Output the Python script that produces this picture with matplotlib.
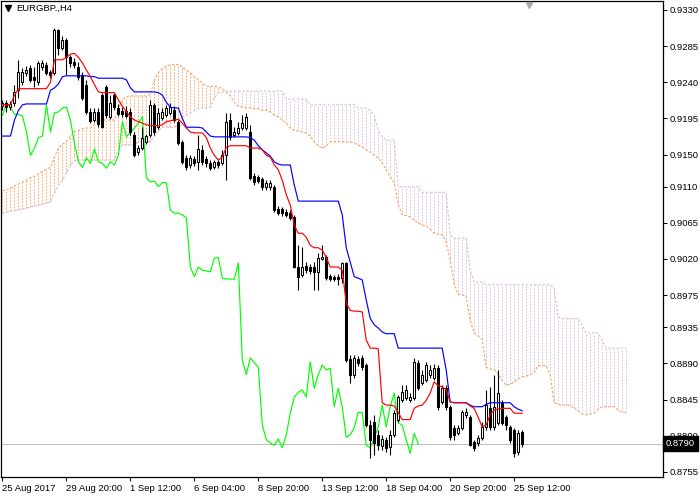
import numpy as np
import matplotlib
matplotlib.use("Agg")
import matplotlib.pyplot as plt
from matplotlib.lines import Line2D
from matplotlib.transforms import blended_transform_factory

symbol = "EURGBP.,H4"

open_ = [0.9210, 0.9214, 0.9209, 0.9214, 0.9230, 0.9240, 0.9252, 0.9258, 0.9247, 0.9240,
         0.9259, 0.9262, 0.9253, 0.9252, 0.9305, 0.9283, 0.9293, 0.9271, 0.9265, 0.9259,
         0.9249, 0.9237, 0.9203, 0.9193, 0.9203, 0.9224, 0.9234, 0.9197, 0.9224, 0.9208,
         0.9204, 0.9204, 0.9203, 0.9174, 0.9153, 0.9158, 0.9166, 0.9174, 0.9212, 0.9184,
         0.9195, 0.9199, 0.9202, 0.9205, 0.9191, 0.9166, 0.9146, 0.9137, 0.9144, 0.9141,
         0.9156, 0.9144, 0.9139, 0.9134, 0.9141, 0.9139, 0.9149, 0.9193, 0.9174, 0.9177,
         0.9183, 0.9183, 0.9178, 0.9123, 0.9122, 0.9120, 0.9110, 0.9110, 0.9110, 0.9082,
         0.9082, 0.9078, 0.9077, 0.9072, 0.9010, 0.9000, 0.9011, 0.9010, 0.9010, 0.9004,
         0.9020, 0.9022, 0.8999, 0.8998, 0.8998, 0.8996, 0.9015, 0.8895, 0.8876, 0.8895,
         0.8897, 0.8888, 0.8813, 0.8817, 0.8801, 0.8787, 0.8795, 0.8786, 0.8801, 0.8820,
         0.8844, 0.8847, 0.8844, 0.8847, 0.8891, 0.8866, 0.8869, 0.8876, 0.8872, 0.8884,
         0.8842, 0.8859, 0.8836, 0.8810, 0.8803, 0.8810, 0.8826, 0.8823, 0.8792, 0.8791,
         0.8797, 0.8811, 0.8834, 0.8811, 0.8816, 0.8841, 0.8823, 0.8811, 0.8807, 0.8780,
         0.8805]

high = [0.9218, 0.9218, 0.9217, 0.9237, 0.9268, 0.9258, 0.9260, 0.9262, 0.9259, 0.9267,
        0.9268, 0.9265, 0.9255, 0.9307, 0.9306, 0.9298, 0.9295, 0.9274, 0.9270, 0.9265,
        0.9253, 0.9243, 0.9208, 0.9208, 0.9208, 0.9227, 0.9237, 0.9224, 0.9227, 0.9213,
        0.9209, 0.9210, 0.9208, 0.9178, 0.9162, 0.9184, 0.9176, 0.9218, 0.9214, 0.9208,
        0.9208, 0.9212, 0.9214, 0.9210, 0.9193, 0.9168, 0.9149, 0.9149, 0.9148, 0.9174,
        0.9162, 0.9148, 0.9143, 0.9143, 0.9143, 0.9156, 0.9202, 0.9202, 0.9184, 0.9191,
        0.9199, 0.9202, 0.9187, 0.9127, 0.9125, 0.9122, 0.9118, 0.9118, 0.9112, 0.9086,
        0.9085, 0.9082, 0.9081, 0.9075, 0.9037, 0.9035, 0.9016, 0.9014, 0.9016, 0.9027,
        0.9037, 0.9025, 0.9001, 0.9000, 0.9001, 0.9016, 0.9016, 0.8900, 0.8900, 0.8899,
        0.8900, 0.8891, 0.8820, 0.8826, 0.8807, 0.8801, 0.8798, 0.8807, 0.8832, 0.8851,
        0.8863, 0.8863, 0.8853, 0.8897, 0.8894, 0.8882, 0.8892, 0.8888, 0.8889, 0.8888,
        0.8863, 0.8863, 0.8838, 0.8813, 0.8813, 0.8832, 0.8834, 0.8826, 0.8795, 0.8801,
        0.8817, 0.8857, 0.8861, 0.8876, 0.8882, 0.8844, 0.8826, 0.8813, 0.8810, 0.8807,
        0.8807]

low = [0.9205, 0.9203, 0.9205, 0.9210, 0.9220, 0.9237, 0.9248, 0.9240, 0.9234, 0.9237,
       0.9255, 0.9249, 0.9245, 0.9249, 0.9274, 0.9280, 0.9249, 0.9259, 0.9258, 0.9243,
       0.9218, 0.9200, 0.9189, 0.9191, 0.9184, 0.9183, 0.9195, 0.9194, 0.9205, 0.9198,
       0.9197, 0.9195, 0.9174, 0.9147, 0.9149, 0.9156, 0.9163, 0.9172, 0.9174, 0.9182,
       0.9193, 0.9197, 0.9199, 0.9191, 0.9162, 0.9138, 0.9131, 0.9133, 0.9136, 0.9131,
       0.9137, 0.9134, 0.9131, 0.9132, 0.9133, 0.9137, 0.9118, 0.9168, 0.9172, 0.9174,
       0.9181, 0.9181, 0.9118, 0.9112, 0.9115, 0.9106, 0.9106, 0.9106, 0.9078, 0.9075,
       0.9073, 0.9072, 0.9068, 0.9009, 0.8981, 0.8998, 0.9002, 0.9001, 0.8981, 0.8981,
       0.9019, 0.8994, 0.8993, 0.8993, 0.8988, 0.8990, 0.8892, 0.8866, 0.8872, 0.8887,
       0.8882, 0.8811, 0.8772, 0.8776, 0.8782, 0.8782, 0.8780, 0.8776, 0.8798, 0.8817,
       0.8842, 0.8844, 0.8842, 0.8844, 0.8857, 0.8863, 0.8867, 0.8872, 0.8869, 0.8832,
       0.8839, 0.8832, 0.8795, 0.8795, 0.8801, 0.8807, 0.8822, 0.8787, 0.8781, 0.8787,
       0.8795, 0.8807, 0.8807, 0.8807, 0.8813, 0.8813, 0.8807, 0.8791, 0.8773, 0.8776,
       0.8786]

close = [0.9214, 0.9209, 0.9213, 0.9228, 0.9253, 0.9253, 0.9255, 0.9243, 0.9243, 0.9264,
         0.9264, 0.9252, 0.9249, 0.9305, 0.9283, 0.9293, 0.9271, 0.9264, 0.9262, 0.9247,
         0.9220, 0.9203, 0.9192, 0.9203, 0.9188, 0.9184, 0.9199, 0.9214, 0.9209, 0.9200,
         0.9200, 0.9198, 0.9178, 0.9149, 0.9158, 0.9171, 0.9173, 0.9212, 0.9178, 0.9202,
         0.9203, 0.9208, 0.9209, 0.9193, 0.9164, 0.9141, 0.9134, 0.9146, 0.9139, 0.9157,
         0.9141, 0.9139, 0.9133, 0.9141, 0.9137, 0.9149, 0.9191, 0.9172, 0.9178, 0.9183,
         0.9189, 0.9197, 0.9121, 0.9116, 0.9117, 0.9110, 0.9115, 0.9115, 0.9081, 0.9077,
         0.9077, 0.9075, 0.9071, 0.9010, 0.8998, 0.9010, 0.9006, 0.9005, 0.9004, 0.9021,
         0.9022, 0.8996, 0.8995, 0.8995, 0.8995, 0.9015, 0.8894, 0.8876, 0.8897, 0.8891,
         0.8885, 0.8813, 0.8795, 0.8791, 0.8788, 0.8796, 0.8785, 0.8801, 0.8828, 0.8848,
         0.8854, 0.8857, 0.8848, 0.8892, 0.8859, 0.8876, 0.8888, 0.8882, 0.8884, 0.8836,
         0.8859, 0.8836, 0.8798, 0.8801, 0.8810, 0.8829, 0.8829, 0.8788, 0.8785, 0.8797,
         0.8811, 0.8838, 0.8811, 0.8836, 0.8853, 0.8816, 0.8813, 0.8795, 0.8778, 0.8803,
         0.8790]

tenkan = [0.9212, 0.9212, 0.9212, 0.9224, 0.9232, 0.9232, 0.9232, 0.9232, 0.9232, 0.9232,
          0.9232, 0.9232, 0.9240, 0.9268, 0.9268, 0.9268, 0.9271, 0.9275, 0.9276, 0.9271,
          0.9264, 0.9255, 0.9247, 0.9237, 0.9228, 0.9227, 0.9227, 0.9227, 0.9227, 0.9218,
          0.9210, 0.9203, 0.9197, 0.9193, 0.9191, 0.9189, 0.9187, 0.9186, 0.9186, 0.9186,
          0.9187, 0.9191, 0.9192, 0.9193, 0.9194, 0.9189, 0.9183, 0.9178, 0.9177, 0.9177,
          0.9177, 0.9171, 0.9158, 0.9149, 0.9143, 0.9147, 0.9159, 0.9161, 0.9161, 0.9161,
          0.9161, 0.9161, 0.9158, 0.9158, 0.9158, 0.9156, 0.9149, 0.9147, 0.9137, 0.9131,
          0.9118, 0.9100, 0.9087, 0.9062, 0.9052, 0.9052, 0.9047, 0.9037, 0.9034, 0.9034,
          0.9031, 0.9022, 0.9010, 0.9010, 0.9010, 0.9006, 0.8965, 0.8956, 0.8955, 0.8955,
          0.8954, 0.8919, 0.8909, 0.8909, 0.8908, 0.8841, 0.8838, 0.8838, 0.8837, 0.8829,
          0.8820, 0.8820, 0.8820, 0.8834, 0.8837, 0.8838, 0.8844, 0.8853, 0.8867, 0.8862,
          0.8861, 0.8857, 0.8842, 0.8841, 0.8841, 0.8841, 0.8841, 0.8837, 0.8834, 0.8823,
          0.8811, 0.8813, 0.8826, 0.8832, 0.8833, 0.8834, 0.8834, 0.8834, 0.8828, 0.8828,
          0.8828]

kijun = [0.9173, 0.9173, 0.9173, 0.9193, 0.9205, 0.9212, 0.9213, 0.9213, 0.9213, 0.9213,
         0.9213, 0.9213, 0.9230, 0.9233, 0.9238, 0.9247, 0.9248, 0.9248, 0.9248, 0.9248,
         0.9248, 0.9248, 0.9247, 0.9247, 0.9245, 0.9245, 0.9245, 0.9245, 0.9245, 0.9245,
         0.9245, 0.9243, 0.9233, 0.9228, 0.9228, 0.9228, 0.9228, 0.9228, 0.9228, 0.9227,
         0.9224, 0.9215, 0.9209, 0.9208, 0.9208, 0.9195, 0.9184, 0.9184, 0.9184, 0.9184,
         0.9183, 0.9178, 0.9173, 0.9172, 0.9172, 0.9172, 0.9172, 0.9172, 0.9172, 0.9172,
         0.9172, 0.9172, 0.9171, 0.9168, 0.9161, 0.9156, 0.9152, 0.9148, 0.9141, 0.9138,
         0.9137, 0.9137, 0.9137, 0.9112, 0.9092, 0.9092, 0.9092, 0.9092, 0.9092, 0.9092,
         0.9092, 0.9092, 0.9092, 0.9092, 0.9092, 0.9075, 0.9034, 0.9016, 0.8998, 0.8996,
         0.8994, 0.8969, 0.8946, 0.8938, 0.8934, 0.8929, 0.8927, 0.8927, 0.8927, 0.8909,
         0.8909, 0.8909, 0.8909, 0.8909, 0.8909, 0.8909, 0.8909, 0.8909, 0.8909, 0.8909,
         0.8909, 0.8882, 0.8842, 0.8841, 0.8841, 0.8841, 0.8841, 0.8838, 0.8836, 0.8836,
         0.8836, 0.8839, 0.8841, 0.8841, 0.8841, 0.8841, 0.8841, 0.8841, 0.8836, 0.8833,
         0.8831]

span_a = [0.9105, 0.9106, 0.9108, 0.9111, 0.9113, 0.9116, 0.9118, 0.9121, 0.9123, 0.9126,
          0.9129, 0.9132, 0.9134, 0.9147, 0.9158, 0.9163, 0.9166, 0.9173, 0.9179, 0.9180,
          0.9182, 0.9183, 0.9183, 0.9188, 0.9193, 0.9193, 0.9193, 0.9193, 0.9193, 0.9207,
          0.9218, 0.9222, 0.9223, 0.9223, 0.9223, 0.9223, 0.9223, 0.9225, 0.9243, 0.9252,
          0.9257, 0.9260, 0.9262, 0.9262, 0.9262, 0.9259, 0.9255, 0.9252, 0.9247, 0.9243,
          0.9239, 0.9235, 0.9235, 0.9235, 0.9234, 0.9232, 0.9228, 0.9223, 0.9215, 0.9210,
          0.9209, 0.9208, 0.9208, 0.9207, 0.9207, 0.9205, 0.9205, 0.9203, 0.9199, 0.9197,
          0.9193, 0.9189, 0.9183, 0.9180, 0.9179, 0.9178, 0.9177, 0.9173, 0.9166, 0.9161,
          0.9158, 0.9161, 0.9166, 0.9166, 0.9166, 0.9166, 0.9166, 0.9166, 0.9164, 0.9162,
          0.9159, 0.9156, 0.9153, 0.9149, 0.9146, 0.9139, 0.9131, 0.9122, 0.9115, 0.9088,
          0.9075, 0.9074, 0.9072, 0.9068, 0.9065, 0.9062, 0.9061, 0.9057, 0.9052, 0.9051,
          0.9050, 0.9041, 0.9019, 0.8989, 0.8976, 0.8975, 0.8974, 0.8944, 0.8928, 0.8924,
          0.8920, 0.8885, 0.8883, 0.8882, 0.8877, 0.8869, 0.8863, 0.8864, 0.8867, 0.8871,
          0.8873, 0.8874, 0.8876, 0.8879, 0.8887, 0.8887, 0.8887, 0.8876, 0.8841, 0.8839,
          0.8838, 0.8838, 0.8838, 0.8834, 0.8831, 0.8827, 0.8826, 0.8827, 0.8828, 0.8833,
          0.8836, 0.8836, 0.8836, 0.8836, 0.8832, 0.8829, 0.8829]

span_b = [0.9077, 0.9078, 0.9080, 0.9080, 0.9081, 0.9082, 0.9083, 0.9085, 0.9086, 0.9087,
          0.9088, 0.9090, 0.9091, 0.9102, 0.9112, 0.9118, 0.9127, 0.9137, 0.9142, 0.9143,
          0.9143, 0.9143, 0.9143, 0.9143, 0.9143, 0.9143, 0.9143, 0.9143, 0.9143, 0.9156,
          0.9162, 0.9162, 0.9162, 0.9162, 0.9166, 0.9166, 0.9166, 0.9166, 0.9173, 0.9179,
          0.9184, 0.9184, 0.9184, 0.9184, 0.9187, 0.9197, 0.9199, 0.9202, 0.9205, 0.9208,
          0.9208, 0.9208, 0.9209, 0.9220, 0.9227, 0.9228, 0.9229, 0.9229, 0.9229, 0.9229,
          0.9229, 0.9229, 0.9229, 0.9229, 0.9229, 0.9229, 0.9229, 0.9229, 0.9229, 0.9229,
          0.9229, 0.9219, 0.9219, 0.9219, 0.9219, 0.9219, 0.9219, 0.9212, 0.9212, 0.9212,
          0.9212, 0.9212, 0.9212, 0.9212, 0.9212, 0.9212, 0.9212, 0.9212, 0.9212, 0.9208,
          0.9208, 0.9208, 0.9205, 0.9199, 0.9180, 0.9172, 0.9168, 0.9168, 0.9168, 0.9110,
          0.9110, 0.9110, 0.9110, 0.9110, 0.9110, 0.9103, 0.9103, 0.9103, 0.9103, 0.9103,
          0.9103, 0.9103, 0.9050, 0.9046, 0.9046, 0.9046, 0.9046, 0.9006, 0.8991, 0.8991,
          0.8991, 0.8988, 0.8988, 0.8988, 0.8988, 0.8988, 0.8988, 0.8988, 0.8988, 0.8988,
          0.8988, 0.8988, 0.8988, 0.8988, 0.8988, 0.8988, 0.8988, 0.8988, 0.8984, 0.8948,
          0.8946, 0.8946, 0.8946, 0.8946, 0.8946, 0.8938, 0.8928, 0.8928, 0.8928, 0.8928,
          0.8919, 0.8909, 0.8909, 0.8909, 0.8909, 0.8909, 0.8909]

date_bars = [0, 16, 32, 48, 64, 80, 96, 112, 128]
date_labels = ["25 Aug 2017", "29 Aug 20:00", "1 Sep 12:00", "6 Sep 04:00", "8 Sep 20:00",
               "13 Sep 12:00", "18 Sep 04:00", "20 Sep 20:00", "25 Sep 12:00"]
price_ticks = [0.9330, 0.9285, 0.9240, 0.9195, 0.9150, 0.9110, 0.9065, 0.9020,
               0.8975, 0.8935, 0.8890, 0.8845, 0.8800, 0.8755]
last_price = 0.8790
chikou_shift = 26

plt.rcParams['font.family'] = ['Liberation Sans', 'DejaVu Sans']
FS = 6.8

fig = plt.figure(figsize=(7, 5), dpi=100)
fig.patch.set_facecolor('white')
ax = fig.add_axes([0.5 / 700, 23 / 500, 662.5 / 700, 476 / 500])
ax.set_facecolor('white')

o = np.array(open_); h = np.array(high); l = np.array(low); c = np.array(close)
n = len(c)
x = np.arange(n)
a = np.array(span_a); b = np.array(span_b)
xc = np.arange(len(a))

# Kumo hatching
hatch_ls = (0, (2.2, 1.6))
up = a >= b
ax.vlines(xc[up], b[up], a[up], colors='#f4a460', linestyles=hatch_ls, lw=0.6, zorder=1)
ax.vlines(xc[~up], a[~up], b[~up], colors='#d8bfd8', linestyles=hatch_ls, lw=0.6, zorder=1)
ax.plot(xc, a, color='#f4a460', lw=0.8, ls=hatch_ls, zorder=1.2)
ax.plot(xc, b, color='#d8bfd8', lw=0.8, ls=hatch_ls, zorder=1.2)

# last price line
ax.axhline(last_price, color='#c0c0c0', lw=0.8, zorder=1.5)

# chikou
ax.plot(x[:n - chikou_shift], c[chikou_shift:], color='#00ff00', lw=0.85, zorder=2)

# candles
ax.vlines(x, l, h, colors='black', lw=0.8, zorder=3)
bull = c >= o
body_lo = np.minimum(o, c)
body_h = np.maximum(np.abs(c - o), 0.00002)
ax.bar(x[bull], body_h[bull], bottom=body_lo[bull], width=0.5, color='white',
       edgecolor='black', lw=0.75, zorder=3.5)
ax.bar(x[~bull], body_h[~bull], bottom=body_lo[~bull], width=0.5, color='black',
       edgecolor='black', lw=0.75, zorder=3.5)

# tenkan / kijun
ax.plot(x, kijun, color='#0000ff', lw=0.85, zorder=4)
ax.plot(x, tenkan, color='#ff0000', lw=0.85, zorder=4.1)

px = 0.0001245
ax.set_xlim(-0.5, 165.25)
ax.set_ylim(0.93424 - 477 * px, 0.93424 - 1 * px)

for s in ax.spines.values():
    s.set_color('black')
    s.set_linewidth(0.9)

ax.yaxis.tick_right()
ax.set_yticks(price_ticks)
ax.set_yticklabels([f"{v:.4f}" for v in price_ticks])
ax.tick_params(axis='y', direction='out', length=3, width=0.7, pad=1.5,
               labelsize=FS, colors='black')
ax.set_xticks(date_bars)
ax.set_xticklabels(date_labels)
ax.tick_params(axis='x', direction='out', length=3, width=0.7, pad=2,
               labelsize=FS, colors='black')
for lab in ax.get_xticklabels():
    lab.set_horizontalalignment('left')

trans = blended_transform_factory(ax.transAxes, ax.transData)
ax.text(1.004, last_price, f"{last_price:.4f}", transform=trans, color='white',
        fontsize=FS, va='center', ha='left', zorder=20, clip_on=False,
        bbox=dict(facecolor='black', edgecolor='black', pad=2.0))

# shift marker
ax.plot([0.798], [0.992], marker='v', color='#a9a9a9', ms=5, transform=ax.transAxes,
        clip_on=False, zorder=10)

# title
fig.add_artist(Line2D([8 / 700], [1 - 8 / 500], marker='v', color='black', ms=4,
                      transform=fig.transFigure))
fig.text(16 / 700, 1 - 8.5 / 500, symbol, fontsize=FS, va='center', ha='left', color='black')

fig.savefig('out.png', dpi=100, facecolor='white')
